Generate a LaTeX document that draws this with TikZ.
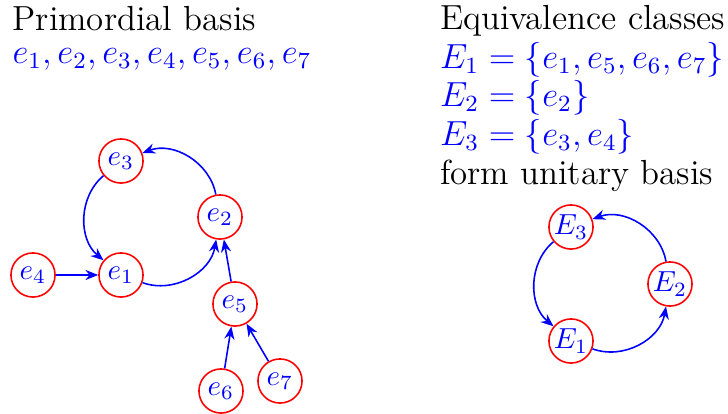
\documentclass[tikz,border=0pt]{standalone}
\usepackage{amsmath}
\usepackage{xcolor}
\usepackage{tikz}
\usetikzlibrary{arrows.meta, positioning}
\definecolor{basisred}{RGB}{255, 0, 0}
\definecolor{basisblue}{RGB}{0, 0, 255}
\tikzset{
  vec/.style={circle, draw=basisred, line width=0.54pt, text=basisblue,
              minimum size=15.2pt, inner sep=0pt, font=\normalsize},
  link/.style={-{Stealth[length=4.4pt, width=3.5pt]}, line width=0.54pt,
              color=basisblue},
  heading/.style={anchor=base west, inner sep=0pt, font=\large},
  setline/.style={heading, text=basisblue},
}

\begin{document}
\begin{tikzpicture}[x=0.3445pt, y=-0.3445pt]
  \useasboundingbox (0,0) rectangle (728,414);
  % Headings
  \node[heading] (prim) at (12,30.7) {Primordial basis};
  \node[setline] (primlist) at (12,63.3) {$e_1, e_2, e_3, e_4, e_5, e_6, e_7$};
  \node[heading] (classes) at (439.5,29.3) {Equivalence classes};
  \node[setline] (class1) at (439.5,68.3) {$E_1 = \{e_1, e_5, e_6, e_7\}$};
  \node[setline] (class2) at (439.5,106.7) {$E_2 = \{e_2\}$};
  \node[setline] (class3) at (439.5,145) {$E_3 = \{e_3, e_4\}$};
  \node[heading] (unitary) at (439.5,184) {form unitary basis};
  % Primordial basis graph
  \node[vec] (e1) at (121,275) {$e_1$};
  \node[vec] (e2) at (220,217) {$e_2$};
  \node[vec] (e3) at (121,161) {$e_3$};
  \node[vec] (e4) at (33,275) {$e_4$};
  \node[vec] (e5) at (235,304) {$e_5$};
  \node[vec] (e6) at (221,391) {$e_6$};
  \node[vec] (e7) at (280,381) {$e_7$};
  \draw[link] (e2) to[bend right=50] (e3);
  \draw[link] (e3) to[bend right=50] (e1);
  \draw[link] (e1) to[bend right=50] (e2);
  \draw[link] (e4) -- (e1);
  \draw[link] (e5) -- (e2);
  \draw[link] (e6) -- (e5);
  \draw[link] (e7) -- (e5);
  % Unitary basis graph
  \node[vec] (E1) at (571,341) {$E_1$};
  \node[vec] (E2) at (670,284) {$E_2$};
  \node[vec] (E3) at (571,227) {$E_3$};
  \draw[link] (E2) to[bend right=50] (E3);
  \draw[link] (E3) to[bend right=50] (E1);
  \draw[link] (E1) to[bend right=50] (E2);
\end{tikzpicture}
\end{document}
